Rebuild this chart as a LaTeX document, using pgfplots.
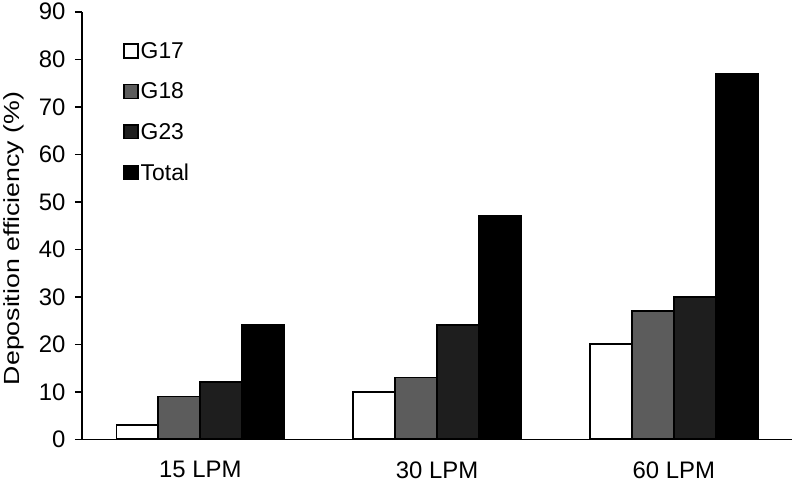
\documentclass[border=0pt]{standalone}
\usepackage{fontspec}
\setmainfont{Liberation Sans}
\newfontfamily\widefont[FakeStretch=1.22]{Liberation Sans}
\usepackage{pgfplots}
\pgfplotsset{compat=1.18}

\definecolor{gA}{RGB}{255,255,255}
\definecolor{gB}{RGB}{92,92,92}
\definecolor{gC}{RGB}{30,30,30}
\definecolor{gD}{RGB}{0,0,0}

\begin{document}
\begin{tikzpicture}
\begin{axis}[
    scale only axis,
    width=711bp, height=428bp,
    ybar=0pt,
    bar width=42bp,
    xmin=-0.5, xmax=2.5,
    ymin=0, ymax=90,
    ytick={0,10,...,90},
    xtick={0,1,2},
    xticklabels={15 LPM,30 LPM,60 LPM},
    axis x line*=bottom,
    axis y line*=left,
    x axis line style={line width=1.5bp, -},
    y axis line style={line width=1.5bp, -},
    xtick style={draw=none},
    ytick style={line width=1.5bp, black},
    tick align=outside,
    major tick length=7bp,
    tick label style={font=\fontsize{24}{28}\selectfont},
    /pgf/number format/assume math mode=true,
    yticklabel style={xshift=-6bp},
    ylabel={\widefont Deposition efficiency (\%)},
    ylabel style={font=\fontsize{22}{26}\selectfont, at={(axis description cs:-0.077,0.47)}, anchor=south},
    xticklabel style={inner ysep=0pt, text depth=4bp, yshift=-15bp},
    legend style={draw=none, fill=none, at={(axis description cs:0.058,0.934)}, anchor=north west,
        font=\fontsize{23}{27}\selectfont, row sep=19bp, inner sep=0pt,
        legend cell align=left},
    legend image code/.code={\draw[#1, line width=1.4bp] (0bp,-7bp) rectangle (14bp,7bp);},
]
\addplot[fill=gA, draw=black, line width=1.8bp] coordinates {(0,3) (1,10) (2,20)};
\addplot[fill=gB, draw=black, line width=1.8bp] coordinates {(0,9) (1,13) (2,27)};
\addplot[fill=gC, draw=black, line width=1.8bp] coordinates {(0,12) (1,24) (2,30)};
\addplot[fill=gD, draw=black, line width=1.8bp] coordinates {(0,24) (1,47) (2,77)};
\legend{G17,G18,G23,Total}
\end{axis}
\end{tikzpicture}
\end{document}
